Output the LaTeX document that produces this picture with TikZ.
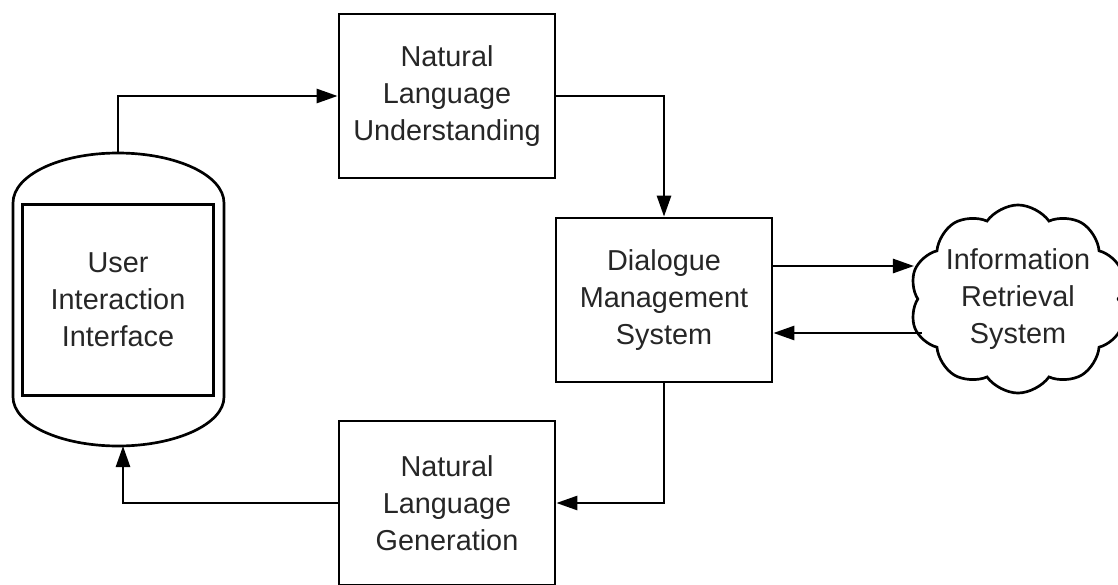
\documentclass[tikz,border=0pt]{standalone}
\usepackage{fontspec}
\setmainfont{Liberation Sans}
\usetikzlibrary{positioning, arrows.meta, shapes.symbols}

\begin{document}
\begin{tikzpicture}[x=0.025cm, y=-0.025cm, line width=1.9pt, >={Triangle[length=15pt, width=10pt]},
  every node/.style={align=center, text=black!85, font=\fontsize{20.5}{26.3}\selectfont},
  block/.style={draw, minimum width=5.4cm, minimum height=4.1cm, inner sep=0pt}]
  \useasboundingbox (0,0) rectangle (1118,585);
  % modules
  \node (nlu) [block] at (447,96) {Natural\\Language\\Understanding};
  \node (dms) [block] at (664,300) {Dialogue\\Management\\System};
  \node (nlg) [block] at (447,503) {Natural\\Language\\Generation};
  \node (uii) [draw, line width=2.4pt, minimum size=4.775cm, inner sep=0pt] at (118,300) {User\\Interaction\\Interface};
  \node (irs) [cloud, draw, cloud puffs=10, cloud puff arc=110, cloud ignores aspect, inner sep=0pt,
    minimum width=5.2cm, minimum height=4.7cm] at (1018,299) {Information\\Retrieval\\System};
  % tank round the user interface
  \draw (13,203) .. controls (13,175) and (60,153) .. (118,153) .. controls (176,153) and (224,175) .. (224,203)
    -- (224,397) .. controls (224,424) and (176,446) .. (118,446) .. controls (60,446) and (13,424) .. (13,397) -- cycle;
  \coordinate (tanktop) at (118,153);
  \coordinate (tankbot) at (123,446);
  \coordinate (irin) at (914,266);
  \coordinate (irout) at (922,333);
  % flow
  \draw[->] (tanktop) |- (nlu.west);
  \draw[->] (nlu.east) -| (dms.north);
  \draw[->] (dms.east |- irin) -- (irin);
  \draw[->] (irout) -- (dms.east |- irout);
  \draw[->] (dms.south) |- (nlg.east);
  \draw[->] (nlg.west) -| (tankbot);
\end{tikzpicture}
\end{document}
